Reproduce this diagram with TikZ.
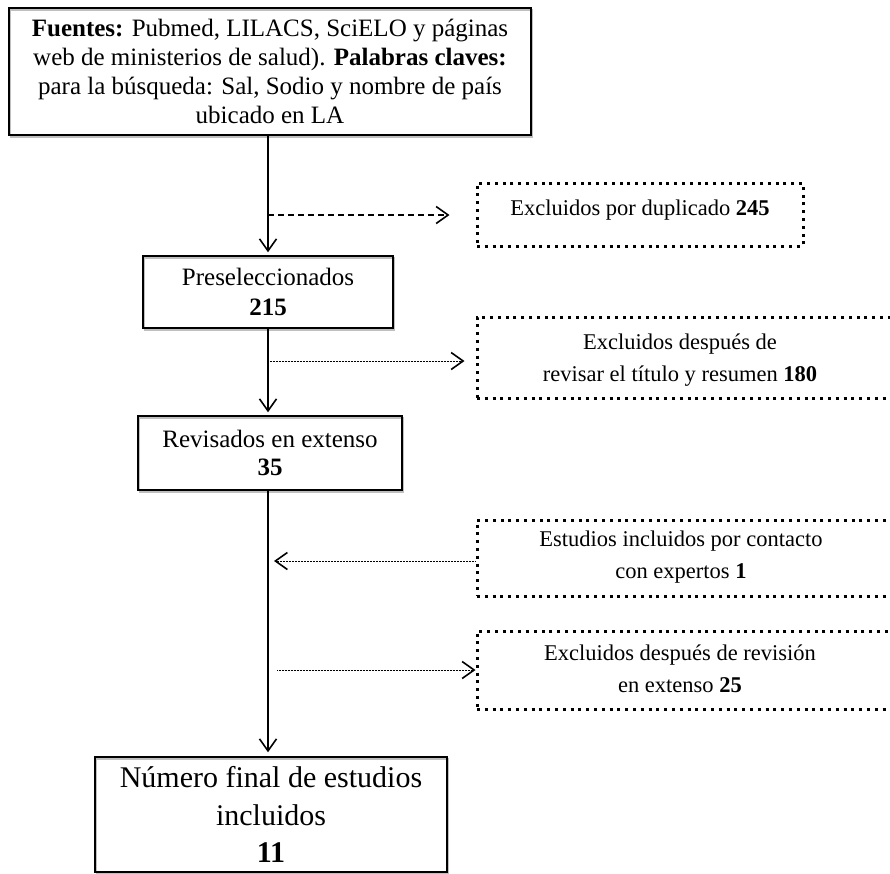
\documentclass[tikz,border=0pt]{standalone}
\usepackage{fontspec}
\setmainfont{Liberation Serif}
\usetikzlibrary{arrows.meta}
\begin{document}
\begin{tikzpicture}[x=1pt,y=-1pt,
  solidbox/.style={draw=black, line width=1.5pt, inner sep=0pt, align=center,
    preaction={draw=black!25, line width=1.5pt, transform canvas={shift={(1.5pt,-2pt)}}}},
  dotbox/.style={draw=black, line width=3pt, dash pattern=on 3pt off 4.8pt, inner sep=0pt},
  boxtext/.style={inner sep=0pt, align=center, font=\fontsize{22.5}{32}\selectfont},
  mainarrow/.style={line width=1.6pt, -{Straight Barb[length=12pt,width=17pt,line width=1.6pt]}},
  dasharrow/.style={line width=1.5pt, dash pattern=on 6pt off 4pt, -{Straight Barb[length=12pt,width=17pt,line width=1.6pt]}},
  finearrow/.style={line width=1pt, dash pattern=on 1pt off 0.5pt, -{Straight Barb[length=12pt,width=17pt,line width=1.6pt]}}
]
\useasboundingbox (0,0) rectangle (890,873);

% main boxes
\node[solidbox, minimum width=522pt, minimum height=127pt, font=\fontsize{25}{29}\selectfont] (top) at (270,71.5)
  {\textbf{Fuentes:} Pubmed, LILACS, SciELO y páginas\\ web de ministerios de salud). \textbf{Palabras claves:}\\ para la búsqueda: Sal, Sodio y nombre de país\\ ubicado en LA};
\node[solidbox, minimum width=250pt, minimum height=72pt, font=\fontsize{25}{30}\selectfont] (pre) at (268,292)
  {Preseleccionados\\ \textbf{215}};
\node[solidbox, minimum width=264pt, minimum height=74pt, font=\fontsize{25}{28}\selectfont] (rev) at (270,453)
  {Revisados en extenso\\ \textbf{35}};
\node[solidbox, minimum width=352pt, minimum height=115pt, font=\fontsize{30}{37.5}\selectfont] (fin) at (271,814.5)
  {Número final de estudios\\ incluidos\\ \textbf{11}};

% dotted side boxes
\node[dotbox, minimum width=326pt, minimum height=63pt] (dup) at (640,214.5) {};
\node[boxtext] (dupt) at (640,210) {Excluidos por duplicado \textbf{245}};
\node[dotbox, minimum width=416pt, minimum height=81pt] (exa) at (685,357.5) {};
\node[boxtext] (exat) at (680,360) {Excluidos después de\\ revisar el título y resumen \textbf{180}};
\node[dotbox, minimum width=416pt, minimum height=76pt] (est) at (685,558) {};
\node[boxtext] (estt) at (681,557.3) {Estudios incluidos por contacto\\ con expertos \textbf{1}};
\node[dotbox, minimum width=416pt, minimum height=78pt] (exb) at (685,670) {};
\node[boxtext] (exbt) at (680,668.3) {Excluidos después de revisión\\ en extenso \textbf{25}};

% points on the main line
\coordinate (vx) at (268,0);
\coordinate (b1) at (268,215);
\coordinate (b2) at (268,361);
\coordinate (b3) at (268,561);
\coordinate (b4) at (268,670);

% main flow
\draw[mainarrow, shorten >=3pt] (top.south -| vx) -- (pre.north -| vx);
\draw[mainarrow, shorten >=3pt] (pre.south -| vx) -- (rev.north -| vx);
\draw[mainarrow, shorten >=4pt] (rev.south -| vx) -- (fin.north -| vx);

% side connectors
\draw[dasharrow, shorten >=26pt] (b1) -- (dup.west |- b1);
\draw[finearrow, shorten >=11pt] (b2) -- (exa.west |- b2);
\draw[finearrow, shorten >=6pt] (est.west |- b3) -- (b3);
\draw[finearrow, shorten <=9pt] (b4) -- (exb.west |- b4);
\end{tikzpicture}
\end{document}
